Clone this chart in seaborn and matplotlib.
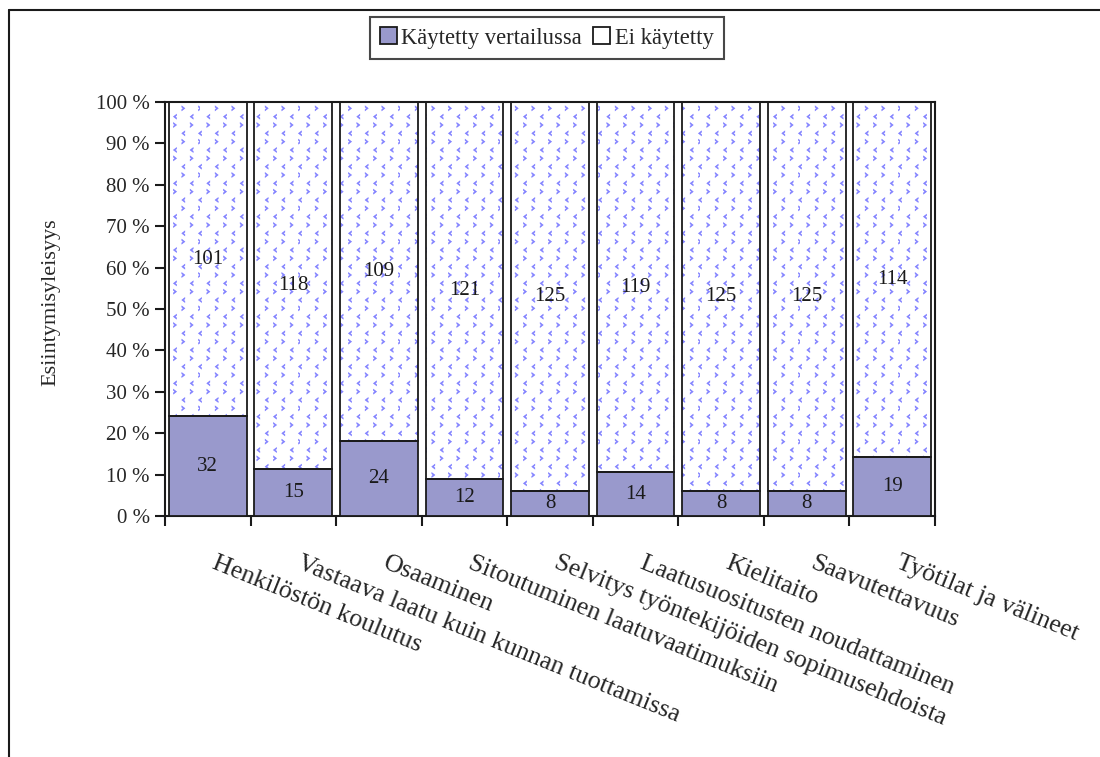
import numpy as np
import pandas as pd
import matplotlib
matplotlib.use("Agg")
import matplotlib.pyplot as plt
from matplotlib import hatch as mhatch
from matplotlib.path import Path
from matplotlib.patches import Patch
from matplotlib.lines import Line2D
import seaborn as sns

# --- data -------------------------------------------------------------
categories = [
    "Henkilöstön koulutus",
    "Vastaava laatu kuin kunnan tuottamissa",
    "Osaaminen",
    "Sitoutuminen laatuvaatimuksiin",
    "Selvitys työntekijöiden sopimusehdoista",
    "Laatusuositusten noudattaminen",
    "Kielitaito",
    "Saavutettavuus",
    "Työtilat ja välineet",
]
used = [32, 15, 24, 12, 8, 14, 8, 8, 19]
not_used = [101, 118, 109, 121, 125, 119, 125, 125, 114]
series_names = ["Käytetty vertailussa", "Ei käytetty"]
y_ticks = list(range(0, 101, 10))
y_tick_labels = [f"{v} %" for v in y_ticks]
y_title = "Esiintymisyleisyys"

USED_COLOR = "#9999cc"
PATTERN_COLOR = "#8080ff"


# --- small "<" / ">" pattern used for the unused share -----------------
class ChevronPattern(mhatch.Shapes):
    filled = True
    size = 1.0

    def __init__(self, hatch, density):
        self.num_rows = hatch.count("o") * density
        lt = np.array([[0.09, 0.14], [-0.09, 0.0], [0.09, -0.14],
                       [0.09, -0.07], [0.0, 0.0], [0.09, 0.07], [0.0, 0.0]])
        gt = lt * [-1, 1] + [0.5, 0.5]
        codes = [Path.MOVETO] + [Path.LINETO] * 5 + [Path.CLOSEPOLY]
        self.shape_vertices = np.concatenate([lt, gt])
        self.shape_codes = np.array(codes + codes, dtype=Path.code_type)
        super().__init__(hatch, density)


mhatch._hatch_types = [ChevronPattern if t is mhatch.SmallCircles else t
                       for t in mhatch._hatch_types]

# --- style ------------------------------------------------------------
sns.set_theme(style="white")
plt.rcParams["font.family"] = ["Liberation Serif", "DejaVu Serif"]
plt.rcParams["hatch.linewidth"] = 0.45
plt.rcParams["axes.linewidth"] = 1.5

totals = np.array(used) + np.array(not_used)
pct_used = np.array(used) / totals * 100
pct_not = np.array(not_used) / totals * 100
df = pd.DataFrame({"kategoria": categories, "osuus": pct_used})

fig = plt.figure(figsize=(11, 7.57), dpi=100)
ax = fig.add_axes([0.15, 0.3184, 0.70, 0.5469])

width = 0.91
sns.barplot(data=df, x="kategoria", y="osuus", order=categories,
            color=USED_COLOR, saturation=1, width=width,
            edgecolor="#1a1a1a", linewidth=1.3, ax=ax, zorder=3)
used_bars = ax.containers[-1]

xpos = np.arange(len(categories))
upper = ax.bar(xpos, pct_not, bottom=pct_used, width=width,
               facecolor="white", edgecolor=PATTERN_COLOR, linewidth=0,
               hatch="o", zorder=2)
ax.bar(xpos, pct_not, bottom=pct_used, width=width, fill=False,
       edgecolor="#1a1a1a", linewidth=1.3, zorder=4)

ax.bar_label(used_bars, labels=[str(v) for v in used], label_type="center",
             fontsize=15, color="#1a1a1a")
ax.bar_label(upper, labels=[str(v) for v in not_used], label_type="center",
             fontsize=15, color="#1a1a1a")

# axes, ticks and labels; category names start slightly right of centre
ax.set_xlim(-0.5, len(categories) - 0.5)
ax.set_ylim(0, 100)
ax.set_yticks(y_ticks, y_tick_labels, fontsize=15)
ax.set_xticks(xpos + 0.11, categories, fontsize=18.7, rotation=-22,
              ha="left", va="top", rotation_mode="anchor")
ax.set_xticks(np.arange(-0.5, len(categories)), minor=True)
ax.tick_params(axis="x", which="major", length=0, pad=26)
ax.tick_params(axis="x", which="minor", length=7, width=1.5,
               direction="out", color="#1a1a1a", bottom=True)
ax.tick_params(axis="y", length=7, width=1.5, direction="out",
               color="#1a1a1a", left=True, pad=4)
ax.set_xlabel("")
ax.set_ylabel(y_title, fontsize=16)
ax.yaxis.set_label_coords(-0.136, 0.517)
for s in ax.spines.values():
    s.set_visible(True)
    s.set_color("#1a1a1a")
    s.set_linewidth(1.5)

# legend
handles = [
    Patch(facecolor=USED_COLOR, edgecolor="#1a1a1a", linewidth=1.3),
    Patch(facecolor="white", edgecolor="#1a1a1a", linewidth=1.3),
]
leg = fig.legend(handles, series_names, loc="center",
                 bbox_to_anchor=(0.497, 0.9498), ncol=2, fontsize=16.3,
                 frameon=True, fancybox=False, edgecolor="#1a1a1a",
                 handlelength=0.75, handleheight=0.75, handletextpad=0.2,
                 columnspacing=0.5, borderpad=0.45, borderaxespad=0)
leg.get_frame().set_linewidth(1.5)

# chart frame (left and top edges)
fig.add_artist(Line2D([8.5 / 1100, 8.5 / 1100], [0, 1 - 10 / 757],
                      transform=fig.transFigure, color="#1a1a1a", lw=1.5))
fig.add_artist(Line2D([8.5 / 1100, 1], [1 - 10 / 757, 1 - 10 / 757],
                      transform=fig.transFigure, color="#1a1a1a", lw=1.5))

fig.savefig("out.png", dpi=100)
